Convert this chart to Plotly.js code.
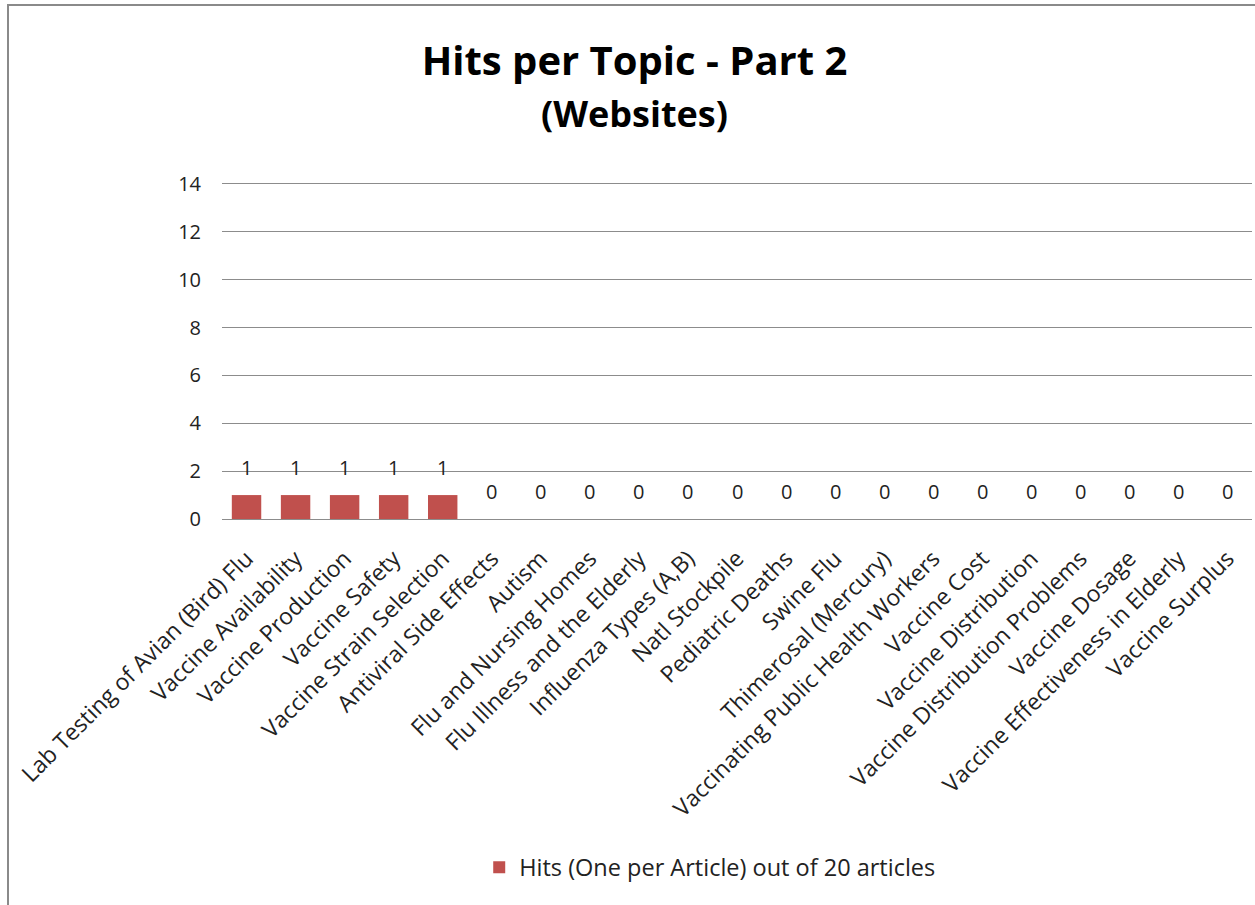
<!DOCTYPE html>
<html>
<head>
<meta charset="utf-8">
<script src="https://cdn.plot.ly/plotly-3.0.1.min.js"></script>
<style>
  html, body { margin: 0; padding: 0; background: #ffffff; }
  #frame {
    position: absolute; left: 7px; top: 4px;
    width: 1248px; height: 901px;
    border-left: 2px solid #8a8a8a;
    border-top: 2px solid #8a8a8a;
    box-sizing: border-box;
  }
  #chart { width: 1246px; height: 899px; }
</style>
</head>
<body>
<div id="frame"><div id="chart"></div></div>
<script>
// Topics covered by website articles, with one hit per article.
const topics = [
  "Lab Testing of Avian (Bird) Flu",
  "Vaccine Availability",
  "Vaccine Production",
  "Vaccine Safety",
  "Vaccine Strain Selection",
  "Antiviral Side Effects",
  "Autism",
  "Flu and Nursing Homes",
  "Flu Illness and the Elderly",
  "Influenza Types (A,B)",
  "Natl Stockpile",
  "Pediatric Deaths",
  "Swine Flu",
  "Thimerosal (Mercury)",
  "Vaccinating Public Health Workers",
  "Vaccine Cost",
  "Vaccine Distribution",
  "Vaccine Distribution Problems",
  "Vaccine Dosage",
  "Vaccine Effectiveness in Elderly",
  "Vaccine Surplus"
];
const hits = [1, 1, 1, 1, 1, 0, 0, 0, 0, 0, 0, 0, 0, 0, 0, 0, 0, 0, 0, 0, 0];
const seriesName = "Hits (One per Article) out of 20 articles";
const yTicks = [0, 2, 4, 6, 8, 10, 12, 14];

const font = "'Open Sans', Lato, sans-serif";
const gridGray = "#8c8c8c";

const trace = {
  type: "bar",
  x: topics,
  y: hits,
  name: seriesName,
  marker: { color: "#c0504d" },
  showlegend: true
};

// Value labels sit a little above each bar top.
const valueLabels = hits.map((v, i) => ({
  x: topics[i],
  y: v,
  xref: "x",
  yref: "y",
  text: String(v),
  showarrow: false,
  yanchor: "bottom",
  yshift: 12,
  font: { family: font, size: 20, color: "#222222" }
}));

const layout = {
  width: 1246,
  height: 899,
  paper_bgcolor: "#ffffff",
  plot_bgcolor: "#ffffff",
  margin: { l: 213, r: 3, t: 178, b: 386 },
  bargap: 0.4,
  font: { family: font, color: "#222222" },
  title: {
    text: "<b>Hits per Topic - Part 2</b><br><b><span style='font-size:36px'>(Websites)</span></b>",
    font: { family: font, size: 40, color: "#000000" },
    x: 0.502, xanchor: "center",
    y: 0.923, yanchor: "top"
  },
  xaxis: {
    type: "category",
    tickangle: -45,
    tickfont: { family: font, size: 23, color: "#222222" },
    showgrid: false,
    showline: true,
    mirror: true,
    linecolor: gridGray,
    linewidth: 1,
    ticks: "",
    ticklabelstandoff: 16,
    automargin: false
  },
  yaxis: {
    range: [0, 14],
    tickvals: yTicks,
    ticktext: yTicks.map(String),
    tickfont: { family: font, size: 20, color: "#222222" },
    showgrid: true,
    gridcolor: gridGray,
    gridwidth: 1,
    zeroline: true,
    zerolinecolor: gridGray,
    zerolinewidth: 1,
    showline: false,
    ticks: "",
    ticklabelstandoff: 20,
    automargin: false
  },
  annotations: valueLabels,
  showlegend: true,
  legend: {
    orientation: "h",
    x: 0.474, xanchor: "center",
    y: -1.04, yanchor: "middle",
    font: { family: font, size: 23.5, color: "#222222" },
    itemwidth: 30
  }
};

Plotly.newPlot("chart", [trace], layout, { displayModeBar: false, staticPlot: true });
</script>
</body>
</html>
